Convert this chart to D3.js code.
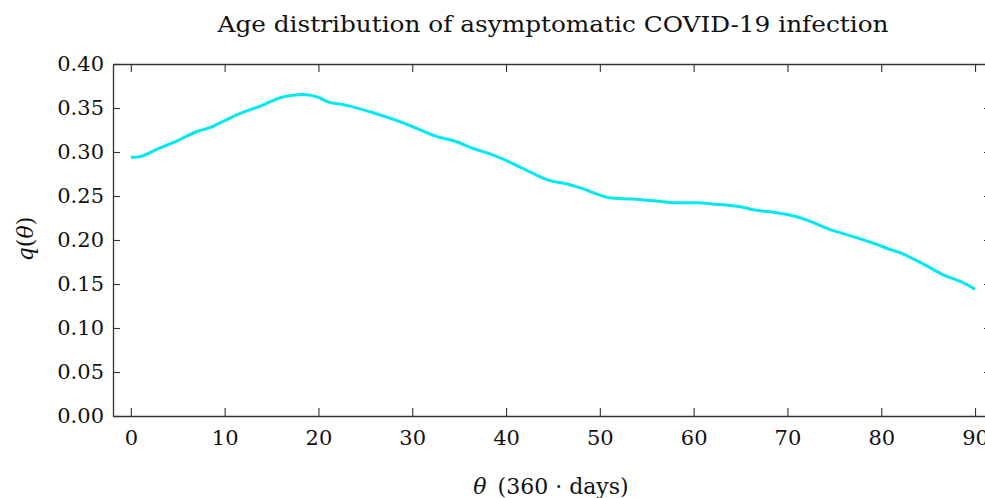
<!DOCTYPE html>
<html>
<head>
<meta charset="utf-8">
<script src="https://cdn.jsdelivr.net/npm/d3@7"></script>
<style>
  body { margin: 0; background: #fff; overflow: hidden; }
  svg text { font-family: 'DejaVu Serif', 'Liberation Serif', serif; fill: #111; }
</style>
</head>
<body>
<div id="chart"></div>
<script>
// curve (theta in 360-day units, q = share asymptomatic)
const theta = [0, 1, 3, 5, 7, 8.5, 9.5, 11.5, 14, 16, 17.5, 19, 20, 21, 23, 26, 28, 30, 32.5, 34.5,
    36.5, 38.5, 40.5, 43, 44.5, 46.5, 48, 49.5, 51, 53.5, 56, 58, 60.5, 62, 65, 66.5, 68.5, 71,
    72.5, 74.5, 77, 79, 81, 82, 84, 85, 86.5, 88.5, 90]
const qValues = [0.294, 0.2947, 0.304, 0.313, 0.323, 0.328, 0.333, 0.343, 0.353, 0.362, 0.3648, 0.3648,
    0.362, 0.357, 0.353, 0.344, 0.337, 0.329, 0.318, 0.3125, 0.304, 0.297, 0.288, 0.275, 0.268,
    0.2636, 0.259, 0.253, 0.248, 0.2466, 0.2443, 0.2424, 0.2422, 0.241, 0.2379, 0.234, 0.2315,
    0.2265, 0.2208, 0.2121, 0.2038, 0.197, 0.189, 0.1856, 0.1754, 0.1697, 0.161, 0.1526, 0.144]
const xTicks = [0, 10, 20, 30, 40, 50, 60, 70, 80, 90]
const yTicks = [0, 0.05, 0.1, 0.15, 0.2, 0.25, 0.3, 0.35, 0.4]

const data = theta.map((t, i) => ({ t: t, q: qValues[i] }))

const width = 1000, height = 498
const plot = { left: 113, right: 991, top: 64, bottom: 416 }
const serif = "'DejaVu Serif', 'Liberation Serif', serif"

const svg = d3.select("#chart")
    .append("svg")
    .attr("width", width)
    .attr("height", height)
    .style("font-family", serif)

const xScale = d3.scaleLinear().domain([-1.9, 91.7]).range([plot.left, plot.right])
const yScale = d3.scaleLinear().domain([0, 0.4]).range([plot.bottom, plot.top])

const axisColor = "#333"

// frame with inward ticks on all four sides
const xBottom = d3.axisBottom(xScale).tickValues(xTicks).tickSizeInner(-8).tickSizeOuter(0)
    .tickPadding(14).tickFormat(d3.format("d"))
const xTop = d3.axisTop(xScale).tickValues(xTicks).tickSizeInner(-8).tickSizeOuter(0).tickFormat("")
const yLeft = d3.axisLeft(yScale).tickValues(yTicks).tickSizeInner(-7).tickSizeOuter(0)
    .tickPadding(9).tickFormat(d3.format(".2f"))
const yRight = d3.axisRight(yScale).tickValues(yTicks).tickSizeInner(-7).tickSizeOuter(0).tickFormat("")

function styleAxis(g) {
    g.attr("font-family", null)
    g.select(".domain").attr("stroke", axisColor).attr("stroke-width", 1.3)
    g.selectAll(".tick line").attr("stroke", axisColor).attr("stroke-width", 1.1)
    g.selectAll(".tick text")
        .style("font-family", serif)
        .attr("font-size", 21)
        .attr("fill", "#111")
}

svg.append("g").attr("transform", `translate(0,${plot.bottom})`).call(xBottom).call(styleAxis)
svg.append("g").attr("transform", `translate(0,${plot.top})`).call(xTop).call(styleAxis)
svg.append("g").attr("transform", `translate(${plot.left},0)`).call(yLeft).call(styleAxis)
svg.append("g").attr("transform", `translate(${plot.right},0)`).call(yRight).call(styleAxis)

// the curve
const line = d3.line()
    .x(d => xScale(d.t))
    .y(d => yScale(d.q))
    .curve(d3.curveCatmullRom)

svg.append("path")
    .datum(data)
    .attr("fill", "none")
    .attr("stroke", "#00e8f0")
    .attr("stroke-width", 3)
    .attr("stroke-linejoin", "round")
    .attr("d", line)

// title and axis labels
svg.append("text")
    .attr("x", 553)
    .attr("y", 32)
    .attr("text-anchor", "middle")
    .attr("font-size", 23)
    .attr("textLength", 671)
    .attr("lengthAdjust", "spacingAndGlyphs")
    .text("Age distribution of asymptomatic COVID-19 infection")

const xLabel = svg.append("text")
    .attr("x", 551)
    .attr("y", 494)
    .attr("text-anchor", "middle")
    .attr("font-size", 22)
xLabel.append("tspan").attr("font-style", "italic").text("θ")
xLabel.append("tspan").text("\u2002(360 · days)")

const yLabel = svg.append("text")
    .attr("transform", "translate(33,239) rotate(-90)")
    .attr("text-anchor", "middle")
    .attr("font-size", 22)
yLabel.append("tspan").attr("font-style", "italic").text("q")
yLabel.append("tspan").text("(")
yLabel.append("tspan").attr("font-style", "italic").text("θ")
yLabel.append("tspan").text(")")
</script>
</body>
</html>
